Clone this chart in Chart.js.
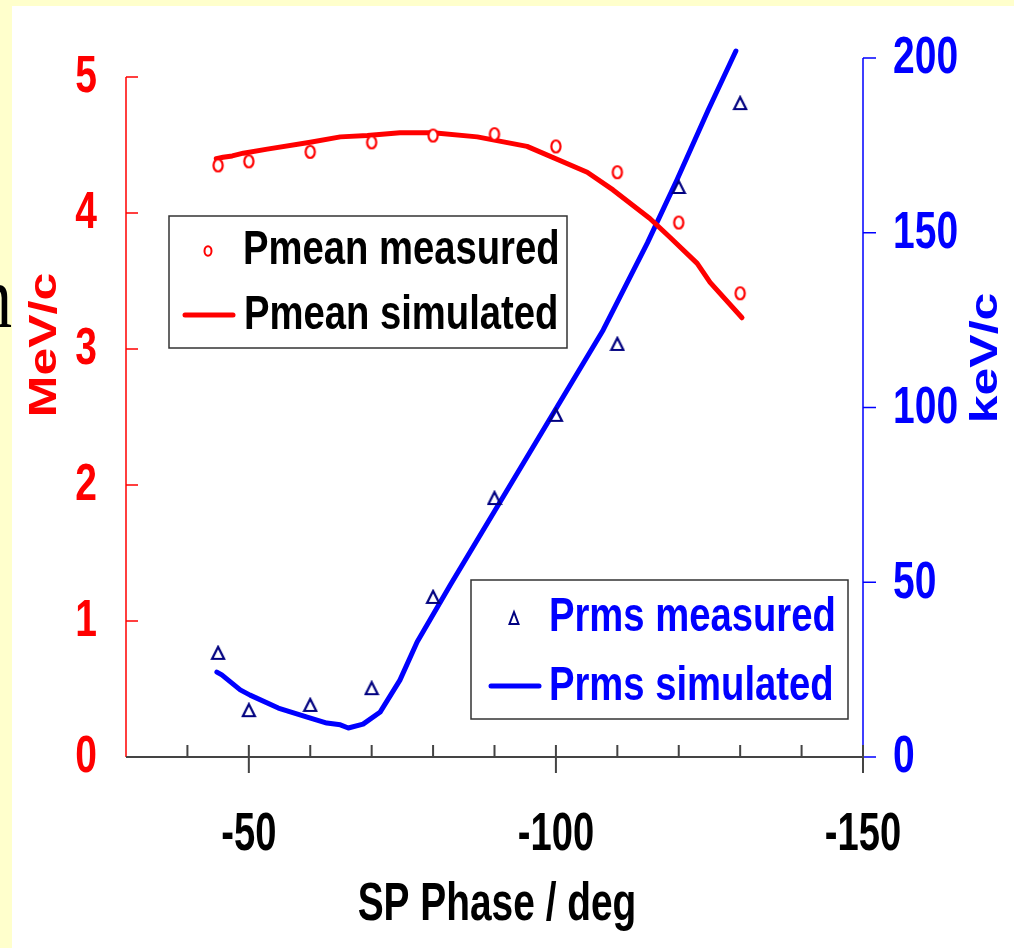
<!DOCTYPE html>
<html>
<head>
<meta charset="utf-8">
<script src="https://cdn.jsdelivr.net/npm/chart.js@4.4.1/dist/chart.umd.min.js"></script>
<style>
html,body{margin:0;padding:0;background:#ffffcc;}
canvas{display:block;}
</style>
</head>
<body>
<canvas id="phaseChart" width="1014" height="948"></canvas>
<script>
// measured points (deg, MeV/c, keV/c)
const phaseMeasured = [-45, -50, -60, -70, -80, -90, -100, -110, -120, -130];
const pmeanMeasured = [4.35, 4.38, 4.45, 4.52, 4.57, 4.58, 4.49, 4.30, 3.93, 3.41];
const prmsMeasured = [29.8, 13.4, 14.9, 19.7, 45.8, 74.1, 97.9, 118.2, 163.1, 187.1];

// simulated curves
const phaseSimMean = [-44.7, -45.8, -47.3, -49.1, -53, -60, -64.9, -69.3, -74.6, -80, -87.2, -95.3, -105.1, -109.3, -115.3, -118.6, -123, -125.1, -130.3];
const pmeanSimulated = [4.40, 4.41, 4.42, 4.44, 4.47, 4.52, 4.56, 4.57, 4.59, 4.59, 4.56, 4.49, 4.30, 4.17, 3.96, 3.82, 3.63, 3.49, 3.23];
const phaseSimRms = [-44.8, -45.6, -48.6, -50.2, -54.8, -59.5, -62.7, -64.9, -66.2, -68.6, -71.4, -74.6, -77.4, -82.8, -107.7, -114.9, -119.7, -124.8, -129.3];
const prmsSimulated = [24.3, 23.5, 19.2, 17.7, 14.0, 11.4, 9.7, 9.2, 8.3, 9.4, 12.9, 22.0, 32.9, 49.2, 122.2, 147.1, 165.1, 185.1, 202.0];

const xTicks = [-50, -100, -150];
const xMinorTicks = [-40, -60, -70, -80, -90, -110, -120, -130, -140];
const mevTicks = [0, 1, 2, 3, 4, 5];
const kevTicks = [0, 50, 100, 150, 200];

const RED = '#ff0000';
const BLUE = '#0000ff';
const NAVY = '#000080';
const WIDE = '"Liberation Sans", Arial, sans-serif';

function pts(xs, ys) {
  return xs.map((x, i) => ({x: x, y: ys[i]}));
}

// the original picture is squeezed sideways, so text is drawn scaled
function squeezedText(ctx, text, x, y, size, color, align, sx, rot) {
  ctx.save();
  ctx.translate(x, y);
  if (rot) {
    ctx.rotate(rot);
    ctx.scale(1, sx);
  } else {
    ctx.scale(sx, 1);
  }
  ctx.font = 'bold ' + size + 'px ' + WIDE;
  ctx.fillStyle = color;
  ctx.textAlign = align;
  ctx.textBaseline = 'middle';
  ctx.fillText(text, 0, 0);
  ctx.restore();
}

// marker images: tall open ellipse and open triangle
function ellipseMarker(rx, ry, color) {
  const c = document.createElement('canvas');
  c.width = Math.ceil(rx * 2 + 4);
  c.height = Math.ceil(ry * 2 + 4);
  const g = c.getContext('2d');
  g.fillStyle = '#fff';
  g.strokeStyle = color;
  g.lineWidth = 2.2;
  g.beginPath();
  g.ellipse(c.width / 2, c.height / 2, rx, ry, 0, 0, Math.PI * 2);
  g.fill();
  g.stroke();
  return c;
}
function triangleMarker(w, h, color) {
  const c = document.createElement('canvas');
  c.width = w + 4;
  c.height = h + 4;
  const g = c.getContext('2d');
  g.strokeStyle = color;
  g.lineWidth = 2.2;
  g.lineJoin = 'miter';
  g.beginPath();
  g.moveTo(c.width / 2, 2);
  g.lineTo(c.width / 2 + w / 2, h + 2);
  g.lineTo(c.width / 2 - w / 2, h + 2);
  g.closePath();
  g.stroke();
  return c;
}

const circleImg = ellipseMarker(4.6, 6, RED);
const triImg = triangleMarker(12, 12, NAVY);

const frame = {
  id: 'frame',
  beforeDraw(chart) {
    const ctx = chart.ctx;
    ctx.save();
    ctx.fillStyle = '#ffffcc';
    ctx.fillRect(0, 0, chart.width, chart.height);
    // stray letter from the slide behind
    ctx.save();
    ctx.translate(12, 327);
    ctx.scale(0.78, 1);
    ctx.font = '88px "Liberation Serif", "Times New Roman", serif';
    ctx.fillStyle = '#000';
    ctx.textAlign = 'right';
    ctx.textBaseline = 'alphabetic';
    ctx.fillText('n', 0, 0);
    ctx.restore();
    ctx.fillStyle = '#ffffff';
    ctx.fillRect(12, 6, chart.width - 12, chart.height - 6);
    ctx.restore();
  },
  beforeDatasetsDraw(chart) {
    const ctx = chart.ctx;
    const sx = chart.scales.x, sm = chart.scales.mev, sk = chart.scales.kev;
    const xl = sx.getPixelForValue(-30), xr = sx.getPixelForValue(-150);
    const y0 = sm.getPixelForValue(0);
    ctx.save();
    // left axis
    ctx.strokeStyle = RED;
    ctx.lineWidth = 1.5;
    ctx.beginPath();
    ctx.moveTo(xl, y0);
    ctx.lineTo(xl, sm.getPixelForValue(5));
    mevTicks.forEach(v => {
      const y = sm.getPixelForValue(v);
      ctx.moveTo(xl, y);
      ctx.lineTo(xl + 12, y);
    });
    ctx.stroke();
    // right axis
    ctx.strokeStyle = BLUE;
    ctx.beginPath();
    ctx.moveTo(xr, sk.getPixelForValue(0));
    ctx.lineTo(xr, sk.getPixelForValue(200));
    kevTicks.forEach(v => {
      const y = sk.getPixelForValue(v);
      ctx.moveTo(xr, y);
      ctx.lineTo(xr + 13, y);
    });
    ctx.stroke();
    // x axis
    ctx.strokeStyle = '#444';
    ctx.lineWidth = 2;
    ctx.beginPath();
    ctx.moveTo(xl, y0);
    ctx.lineTo(xr, y0);
    xMinorTicks.forEach(v => {
      const x = sx.getPixelForValue(v);
      ctx.moveTo(x, y0 - 12);
      ctx.lineTo(x, y0);
    });
    xTicks.forEach(v => {
      const x = sx.getPixelForValue(v);
      ctx.moveTo(x, y0 - 12);
      ctx.lineTo(x, y0 + 16);
    });
    ctx.stroke();
    ctx.restore();

    // tick labels
    mevTicks.forEach(v => {
      squeezedText(ctx, String(v), xl - 29, sm.getPixelForValue(v) + 1, 52, RED, 'right', 0.75);
    });
    kevTicks.forEach(v => {
      squeezedText(ctx, String(v), xr + 30, sk.getPixelForValue(v) + 1, 52, BLUE, 'left', 0.75);
    });
    xTicks.forEach(v => {
      squeezedText(ctx, String(v), sx.getPixelForValue(v), 835, 53, '#000', 'center', 0.72);
    });
  },
  afterDraw(chart) {
    const ctx = chart.ctx;
    // axis titles
    squeezedText(ctx, 'MeV/c', 45, 345, 50, RED, 'center', 0.78, -Math.PI / 2);
    squeezedText(ctx, 'keV/c', 986, 358, 50, BLUE, 'center', 0.78, -Math.PI / 2);
    squeezedText(ctx, 'SP Phase / deg', 497, 905, 54, '#000', 'center', 0.72);

    ctx.save();
    ctx.strokeStyle = '#333';
    ctx.lineWidth = 1.5;
    ctx.fillStyle = '#fff';
    // legend boxes
    ctx.fillRect(169, 216, 398, 132);
    ctx.strokeRect(169, 216, 398, 132);
    ctx.fillRect(471, 580, 377, 139);
    ctx.strokeRect(471, 580, 377, 139);

    // Pmean legend entries
    ctx.strokeStyle = RED;
    ctx.lineWidth = 2;
    ctx.beginPath();
    ctx.ellipse(208, 251, 3.5, 4.8, 0, 0, Math.PI * 2);
    ctx.stroke();
    ctx.lineWidth = 5;
    ctx.lineCap = 'round';
    ctx.beginPath();
    ctx.moveTo(185, 315);
    ctx.lineTo(233, 315);
    ctx.stroke();

    // Prms legend entries
    ctx.strokeStyle = NAVY;
    ctx.lineWidth = 2;
    ctx.lineCap = 'butt';
    ctx.beginPath();
    ctx.moveTo(514, 612);
    ctx.lineTo(518.5, 624);
    ctx.lineTo(509.5, 624);
    ctx.closePath();
    ctx.stroke();
    ctx.strokeStyle = BLUE;
    ctx.lineWidth = 5;
    ctx.lineCap = 'round';
    ctx.beginPath();
    ctx.moveTo(491, 686);
    ctx.lineTo(539, 686);
    ctx.stroke();
    ctx.restore();

    squeezedText(ctx, 'Pmean measured', 243, 250, 49, '#000', 'left', 0.78);
    squeezedText(ctx, 'Pmean simulated', 244, 315, 49, '#000', 'left', 0.78);
    squeezedText(ctx, 'Prms measured', 549, 617, 49, BLUE, 'left', 0.78);
    squeezedText(ctx, 'Prms simulated', 549, 686, 49, BLUE, 'left', 0.78);
  }
};

new Chart(document.getElementById('phaseChart'), {
  type: 'scatter',
  data: {
    datasets: [{
      label: 'Pmean measured',
      data: pts(phaseMeasured, pmeanMeasured),
      yAxisID: 'mev',
      showLine: false,
      pointStyle: circleImg,
      pointRadius: 6,
      borderColor: RED,
      backgroundColor: '#ffffff'
    }, {
      label: 'Prms measured',
      data: pts(phaseMeasured, prmsMeasured),
      yAxisID: 'kev',
      showLine: false,
      pointStyle: triImg,
      pointRadius: 7,
      borderColor: NAVY,
      backgroundColor: 'rgba(255,255,255,0)'
    }, {
      label: 'Pmean simulated',
      data: pts(phaseSimMean, pmeanSimulated),
      yAxisID: 'mev',
      showLine: true,
      pointRadius: 0,
      borderColor: RED,
      borderWidth: 5,
      borderJoinStyle: 'round',
      borderCapStyle: 'round',
      tension: 0
    }, {
      label: 'Prms simulated',
      data: pts(phaseSimRms, prmsSimulated),
      yAxisID: 'kev',
      showLine: true,
      pointRadius: 0,
      borderColor: BLUE,
      borderWidth: 5,
      borderJoinStyle: 'round',
      borderCapStyle: 'round',
      tension: 0,
      clip: false
    }]
  },
  options: {
    responsive: false,
    animation: false,
    events: [],
    layout: {padding: {top: 58, left: 0, right: 0, bottom: 0}},
    plugins: {legend: {display: false}, tooltip: {enabled: false}},
    scales: {
      x: {
        type: 'linear',
        position: 'bottom',
        min: -150,
        max: -30,
        reverse: true,
        grid: {display: false, drawTicks: false},
        border: {display: false},
        afterBuildTicks: s => { s.ticks = xTicks.map(v => ({value: v})); },
        afterFit: s => { s.height = 191; },
        ticks: {display: false}
      },
      mev: {
        type: 'linear',
        position: 'left',
        min: 0,
        max: 5.14,
        grid: {display: false, drawTicks: false},
        border: {display: false},
        afterBuildTicks: s => { s.ticks = mevTicks.map(v => ({value: v})); },
        afterFit: s => { s.width = 126; },
        ticks: {display: false}
      },
      kev: {
        type: 'linear',
        position: 'right',
        min: 0,
        max: 200,
        grid: {display: false, drawTicks: false},
        border: {display: false},
        afterBuildTicks: s => { s.ticks = kevTicks.map(v => ({value: v})); },
        afterFit: s => { s.width = 151; },
        ticks: {display: false}
      }
    }
  },
  plugins: [frame]
});
</script>
</body>
</html>
